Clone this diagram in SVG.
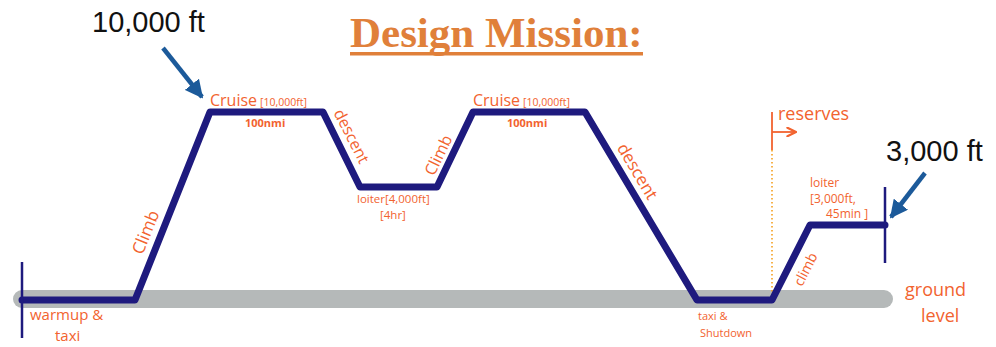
<svg xmlns="http://www.w3.org/2000/svg" width="996" height="347" viewBox="0 0 996 347">
  <defs>
    <style>
      .title { font-family: "Liberation Serif", "Times New Roman", serif; font-weight: bold; font-size: 43px; fill: #E0803A; }
      .alt { font-family: "Liberation Sans", Arial, sans-serif; font-size: 29px; fill: #111; }
      .hand { font-family: "Open Sans", "Liberation Sans", sans-serif; fill: #F2632F; }
      .pointer { stroke: #1C5A9A; stroke-width: 4.5; fill: none; }
    </style>
    <marker id="blueHead" viewBox="0 0 10 10" refX="9" refY="5" markerWidth="4" markerHeight="4" orient="auto" markerUnits="strokeWidth">
      <path d="M0,0 L10,5 L0,10 Z" fill="#1C5A9A"/>
    </marker>
    <marker id="orangeHead" viewBox="0 0 10 10" refX="9" refY="5" markerWidth="6" markerHeight="6" orient="auto" markerUnits="strokeWidth">
      <path d="M1,1 L9,5 L1,9" fill="none" stroke="#F2632F" stroke-width="2" stroke-linecap="round"/>
    </marker>
  </defs>

  <rect width="996" height="347" fill="#fff"/>

  <!-- heading -->
  <g id="title">
    <text class="title" x="350" y="47">Design Mission:</text>
    <rect x="350" y="52" width="293" height="3.5" fill="#E0803A"/>
  </g>

  <!-- ground reference -->
  <g id="ground">
    <line x1="22" y1="299" x2="884" y2="299" stroke="#B5B9B9" stroke-width="18" stroke-linecap="round"/>
    <text class="hand" font-size="18" x="905" y="296">ground</text>
    <text class="hand" font-size="18" x="921" y="322">level</text>
  </g>

  <!-- reserves boundary -->
  <g id="reserves">
    <line x1="772" y1="150" x2="772" y2="300" stroke="#F5A020" stroke-width="1.6" stroke-dasharray="1.5 2.5"/>
    <line x1="772" y1="112" x2="772" y2="150" stroke="#F2632F" stroke-width="1.8"/>
    <line x1="772" y1="132" x2="796" y2="132" stroke="#F2632F" stroke-width="1.8" marker-end="url(#orangeHead)"/>
    <text class="hand" font-size="18" x="778" y="120">reserves</text>
  </g>

  <!-- mission profile and its end ticks -->
  <g id="connectors">
    <polyline points="22,300 135,300 210,112 323,112 360,187 437,187 473,112 585,112 697,300 772,300 810,225 885,225" fill="none" stroke="#1E1A7E" stroke-width="7" stroke-linejoin="round" stroke-linecap="round"/>
    <line x1="22" y1="262" x2="22" y2="338" stroke="#1E1A7E" stroke-width="2.5"/>
    <line x1="885" y1="187" x2="885" y2="263" stroke="#1E1A7E" stroke-width="2.5"/>
    <line class="pointer" x1="163" y1="48" x2="202" y2="97" marker-end="url(#blueHead)"/>
    <line class="pointer" x1="925" y1="173" x2="891" y2="217" marker-end="url(#blueHead)"/>
  </g>

  <!-- altitude callouts -->
  <g id="alt-10000">
    <text class="alt" x="92" y="32">10,000 ft</text>
  </g>
  <g id="alt-3000">
    <text class="alt" x="886" y="161">3,000 ft</text>
  </g>

  <!-- segment labels -->
  <g id="warmup">
    <text class="hand" font-size="15" x="30" y="320">warmup &amp;</text>
    <text class="hand" font-size="15" x="55" y="341">taxi</text>
  </g>
  <g id="climb-1">
    <text class="hand" font-size="17" text-anchor="middle" dominant-baseline="central" transform="translate(145,232) rotate(-68)">Climb</text>
  </g>
  <g id="cruise-1">
    <text class="hand" x="210" y="106"><tspan font-size="16">Cruise</tspan><tspan font-size="10.5" dx="3">[10,000ft]</tspan></text>
    <text class="hand" font-size="11" font-weight="bold" x="245" y="127">100nmi</text>
  </g>
  <g id="descent-1">
    <text class="hand" font-size="16" text-anchor="middle" dominant-baseline="central" transform="translate(352,136) rotate(63)">descent</text>
  </g>
  <g id="loiter-1">
    <text class="hand" font-size="11.5" x="357" y="203">loiter[4,000ft]</text>
    <text class="hand" font-size="11.5" x="380" y="219">[4hr]</text>
  </g>
  <g id="climb-2">
    <text class="hand" font-size="16" text-anchor="middle" dominant-baseline="central" transform="translate(438,155) rotate(-64)">Climb</text>
  </g>
  <g id="cruise-2">
    <text class="hand" x="473" y="106"><tspan font-size="16">Cruise</tspan><tspan font-size="10.5" dx="3">[10,000ft]</tspan></text>
    <text class="hand" font-size="11" font-weight="bold" x="507" y="127">100nmi</text>
  </g>
  <g id="descent-2">
    <text class="hand" font-size="17" text-anchor="middle" dominant-baseline="central" transform="translate(638,171) rotate(59)">descent</text>
  </g>
  <g id="shutdown">
    <text class="hand" font-size="11" x="698" y="320">taxi &amp;</text>
    <text class="hand" font-size="11" x="700" y="337">Shutdown</text>
  </g>
  <g id="climb-3">
    <text class="hand" font-size="14" text-anchor="middle" dominant-baseline="central" transform="translate(805,269) rotate(-63)">climb</text>
  </g>
  <g id="loiter-2">
    <text class="hand" font-size="12" x="810" y="187">loiter</text>
    <text class="hand" font-size="12" x="810" y="203">[3,000ft,</text>
    <text class="hand" font-size="12" x="826" y="218">45min ]</text>
  </g>
</svg>
